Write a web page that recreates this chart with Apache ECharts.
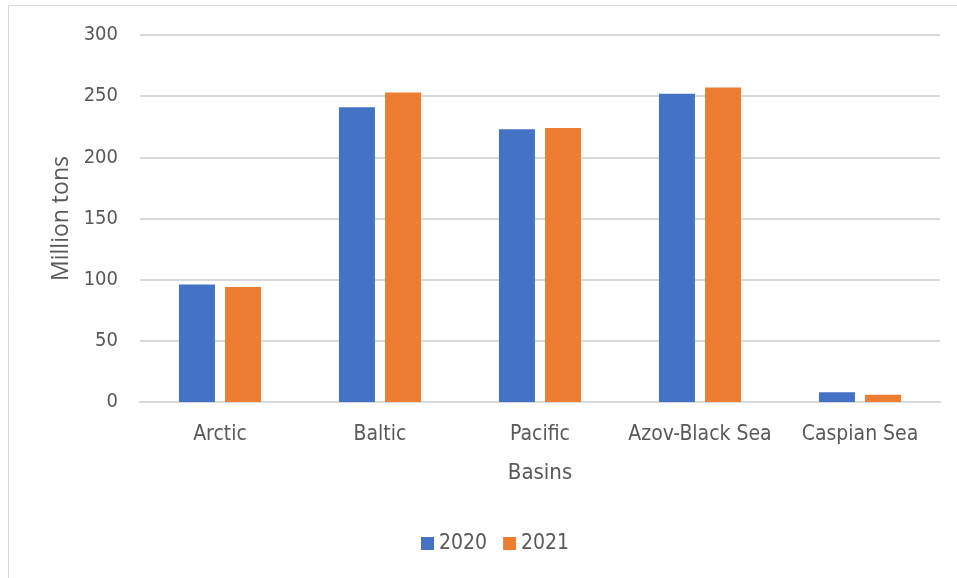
<!DOCTYPE html>
<html>
<head>
<meta charset="utf-8">
<script src="https://cdn.jsdelivr.net/npm/echarts@6/dist/echarts.min.js"></script>
<style>
  html, body { margin: 0; padding: 0; background: #fff; }
  #chart { width: 957px; height: 578px; }
</style>
</head>
<body>
<div id="chart"></div>
<script>
// Freight volume by sea basin, million tons
const basins = ['Arctic', 'Baltic', 'Pacific', 'Azov-Black Sea', 'Caspian Sea'];
const years = ['2020', '2021'];
const values2020 = [96, 241, 223, 252, 8];
const values2021 = [94, 253, 224, 257, 6];
const yTicks = [0, 50, 100, 150, 200, 250, 300];

const textColor = '#595959';
const fontFamily = '"DejaVu Sans Condensed", "Open Sans", sans-serif';

const chart = echarts.init(document.getElementById('chart'), null, { renderer: 'canvas' });

chart.setOption({
  backgroundColor: '#ffffff',
  animation: false,
  textStyle: { fontFamily: fontFamily, color: textColor },
  graphic: [{
    type: 'rect',
    shape: { x: 8.5, y: 5.5, width: 960, height: 580 },
    style: { fill: 'none', stroke: '#d9d9d9', lineWidth: 1 },
    silent: true
  }],
  grid: { left: 140, right: 17, top: 35, bottom: 176 },
  legend: {
    data: years,
    bottom: 19,
    left: 416,
    itemWidth: 13,
    itemHeight: 13,
    itemGap: 16,
    icon: 'rect',
    textStyle: { fontSize: 21, color: textColor, fontFamily: fontFamily }
  },
  xAxis: {
    type: 'category',
    data: basins,
    name: 'Basins',
    nameLocation: 'middle',
    nameGap: 60,
    nameTextStyle: { fontSize: 22, color: textColor, fontFamily: fontFamily },
    axisLine: { show: true, lineStyle: { color: '#d9d9d9', width: 2 } },
    axisTick: { show: false },
    axisLabel: { interval: 0, fontSize: 21, color: textColor, margin: 22, fontFamily: fontFamily }
  },
  yAxis: {
    type: 'value',
    min: yTicks[0],
    max: yTicks[yTicks.length - 1],
    interval: 50,
    name: 'Million tons',
    nameLocation: 'middle',
    nameGap: 67,
    nameRotate: 90,
    nameTextStyle: { fontSize: 23, color: textColor, fontFamily: '"Open Sans", sans-serif' },
    axisLine: { show: false },
    axisTick: { show: false },
    axisLabel: { fontSize: 20, color: textColor, margin: 22, fontFamily: fontFamily },
    splitLine: { lineStyle: { color: '#d9d9d9', width: 2 } }
  },
  series: [
    {
      name: years[0],
      type: 'bar',
      data: values2020,
      barWidth: 36,
      barGap: '28%',
      itemStyle: { color: '#4472c4' }
    },
    {
      name: years[1],
      type: 'bar',
      data: values2021,
      barWidth: 36,
      barGap: '28%',
      itemStyle: { color: '#ed7d31' }
    }
  ]
});
</script>
</body>
</html>
